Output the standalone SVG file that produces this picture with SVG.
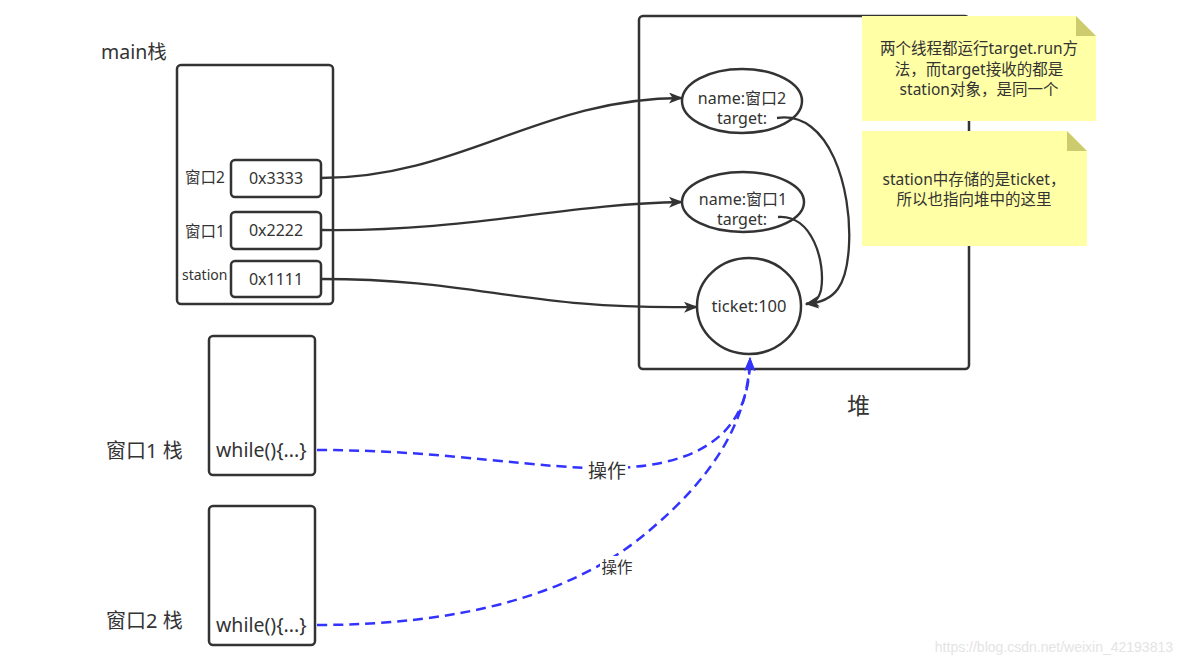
<svg xmlns="http://www.w3.org/2000/svg" width="1182" height="665" viewBox="0 0 1182 665">
<defs>
<style>
.t{font-family:"Noto Sans","Noto Sans CJK SC",sans-serif;fill:#333}
.box{fill:#fff;stroke:#333;stroke-width:2.5}
.ln{fill:none;stroke:#333;stroke-width:2.3}
.bl{fill:none;stroke:#3333ff;stroke-width:2.5;stroke-dasharray:10 6}
.note{fill:#ffffa6}
.fold{fill:#cccc6e}
</style>
<marker id="ah" viewBox="0 0 14 11" refX="13" refY="5.5" markerWidth="14" markerHeight="11" markerUnits="userSpaceOnUse" orient="auto">
<path d="M0,0 L14,5.5 L0,11 L3.5,5.5 Z" fill="#333"/>
</marker>
<marker id="bh" viewBox="0 0 14 11" refX="13" refY="5.5" markerWidth="14" markerHeight="11" markerUnits="userSpaceOnUse" orient="auto">
<path d="M0,0 L14,5.5 L0,11 L3.5,5.5 Z" fill="#3333ff"/>
</marker>
</defs>
<rect width="1182" height="665" fill="#fff"/>

<g id="main-stack">
<text class="t" x="101" y="59" font-size="19.5">main栈</text>
<rect class="box" x="177" y="65" width="156" height="239" rx="4"/>
</g>
<g id="slot-3333">
<text class="t" x="185" y="183" font-size="15.5">窗口2</text>
<rect class="box" x="231" y="160" width="90" height="37" rx="4"/>
<text class="t" x="276" y="184" font-size="16" text-anchor="middle">0x3333</text>
</g>
<g id="slot-2222">
<text class="t" x="185" y="237" font-size="15.5">窗口1</text>
<rect class="box" x="231" y="212" width="90" height="37" rx="4"/>
<text class="t" x="276" y="236" font-size="16" text-anchor="middle">0x2222</text>
</g>
<g id="slot-1111">
<text class="t" x="182" y="280" font-size="14">station</text>
<rect class="box" x="231" y="261" width="90" height="36" rx="4"/>
<text class="t" x="276" y="285" font-size="16" text-anchor="middle">0x1111</text>
</g>

<g id="heap">
<rect class="box" x="639" y="16" width="330" height="353" rx="4"/>
<text class="t" x="847" y="414" font-size="23">堆</text>
</g>
<g id="obj-thread2">
<ellipse class="box" cx="742" cy="101" rx="60" ry="32"/>
<text class="t" x="742" y="104" font-size="16" text-anchor="middle">name:窗口2</text>
<text class="t" x="742" y="124" font-size="16" text-anchor="middle">target:</text>
</g>
<g id="obj-thread1">
<ellipse class="box" cx="743" cy="202" rx="61" ry="30"/>
<text class="t" x="743" y="205" font-size="16" text-anchor="middle">name:窗口1</text>
<text class="t" x="742" y="225" font-size="16" text-anchor="middle">target:</text>
</g>
<g id="obj-ticket">
<ellipse class="box" cx="749" cy="306" rx="52" ry="48"/>
<text class="t" x="749" y="312" font-size="16.5" text-anchor="middle">ticket:100</text>
</g>

<g id="thread1-stack">
<text class="t" x="106" y="458" font-size="20">窗口1 栈</text>
<rect class="box" x="209" y="336" width="106" height="139" rx="4"/>
<text class="t" x="216" y="457" font-size="19.5">while(){...}</text>
</g>
<g id="thread2-stack">
<text class="t" x="106" y="628" font-size="20">窗口2 栈</text>
<rect class="box" x="209" y="506" width="106" height="139" rx="4"/>
<text class="t" x="216" y="632" font-size="19.5">while(){...}</text>
</g>

<g id="note1">
<path class="note" d="M862,16 H1076 L1096,36 V121 H862 Z"/>
<path class="fold" d="M1076,16 L1096,36 H1076 Z"/>
<text class="t" font-size="15.5" text-anchor="middle"><tspan x="979" y="54">两个线程都运行target.run方</tspan><tspan x="979" y="75">法，而target接收的都是</tspan><tspan x="979" y="95">station对象，是同一个</tspan></text>
</g>
<g id="note2">
<path class="note" d="M862,131 H1067 L1087,151 V246 H862 Z"/>
<path class="fold" d="M1067,131 L1087,151 H1067 Z"/>
<text class="t" font-size="15.5" text-anchor="middle"><tspan x="974" y="185">station中存储的是ticket，</tspan><tspan x="974" y="205">所以也指向堆中的这里</tspan></text>
</g>

<g id="connectors">
<path class="ln" d="M321,178 C460,178 540,98 682,98" marker-end="url(#ah)"/>
<path class="ln" d="M321,230 C470,232 560,204 682,202" marker-end="url(#ah)"/>
<path class="ln" d="M321,279 C480,279 520,310 697,307" marker-end="url(#ah)"/>
<path class="ln" d="M777,118 C830,110 852,190 849,245 C847,285 836,302 806,304" marker-end="url(#ah)"/>
<path class="ln" d="M778,217 C812,214 826,262 821,290 C819,298 816,302 806,304" marker-end="url(#ah)"/>
<path class="bl" d="M317,450 C450,450 540,470 615,468 C705,465 750,430 750,358" marker-end="url(#bh)"/>
<path class="bl" d="M317,625 C460,625 575,595 650,530 C715,475 748,420 750,358" marker-end="url(#bh)"/>
<rect x="586" y="459" width="42" height="24" fill="#fff"/>
<text class="t" x="607" y="478" font-size="19" text-anchor="middle">操作</text>
<rect x="600" y="556" width="35" height="20" fill="#fff"/>
<text class="t" x="617" y="573" font-size="15.5" text-anchor="middle">操作</text>
</g>
<text x="1173" y="652" font-size="14" text-anchor="end" fill="#e4e4e4" font-family="Liberation Sans, sans-serif">https://blog.csdn.net/weixin_42193813</text>
</svg>
